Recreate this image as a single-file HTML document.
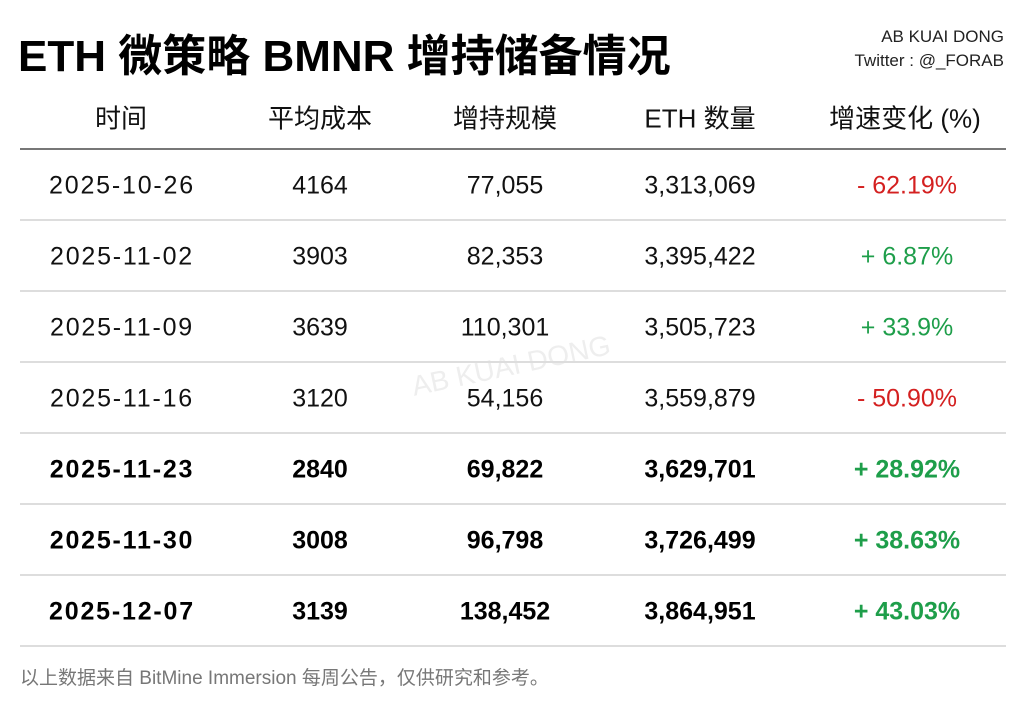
<!DOCTYPE html>
<html><head><meta charset="utf-8"><style>
body{margin:0;width:1024px;height:706px;background:#fff;position:relative;overflow:hidden;font-family:"Liberation Sans","Noto Sans CJK SC",sans-serif;color:#111}
.a{position:absolute;white-space:nowrap}
.t{left:18px;top:20px;font-size:44px;font-weight:bold;color:#000;letter-spacing:0px}
.r{right:20px;text-align:right;font-size:17px;color:#222}
.c{position:absolute;transform:translate(-50%,-50%);white-space:nowrap;font-size:25px}
.d{letter-spacing:1.8px}
.h{font-size:26px;color:#111}
.b{font-weight:bold;color:#000}
.red{color:#d42020}.grn{color:#1e9e4a}
.line{position:absolute;left:20px;width:986px;height:2px;background:#ddd}
</style></head><body>
<div class="a t">ETH 微策略 BMNR 增持储备情况</div>
<div class="a r" style="top:27px">AB KUAI DONG</div>
<div class="a r" style="top:51px">Twitter : @_FORAB</div>

<div class="c h" style="left:121px;top:117px">时间</div>
<div class="c h" style="left:320px;top:117px">平均成本</div>
<div class="c h" style="left:505px;top:117px">增持规模</div>
<div class="c h" style="left:700px;top:117px">ETH 数量</div>
<div class="c h" style="left:905px;top:117px">增速变化 (%)</div>
<div class="line" style="top:148px;background:#777"></div>

<div class="a" style="left:410px;top:350px;transform:rotate(-12deg);font-size:28px;color:#eee">AB KUAI DONG</div>

<div class="c d" style="left:122px;top:186px">2025-10-26</div><div class="c" style="left:320px;top:186px">4164</div><div class="c" style="left:505px;top:186px">77,055</div><div class="c" style="left:700px;top:186px">3,313,069</div><div class="c red" style="left:907px;top:186px">- 62.19%</div>
<div class="line" style="top:219px"></div>
<div class="c d" style="left:122px;top:257px">2025-11-02</div><div class="c" style="left:320px;top:257px">3903</div><div class="c" style="left:505px;top:257px">82,353</div><div class="c" style="left:700px;top:257px">3,395,422</div><div class="c grn" style="left:907px;top:257px">+ 6.87%</div>
<div class="line" style="top:290px"></div>
<div class="c d" style="left:122px;top:328px">2025-11-09</div><div class="c" style="left:320px;top:328px">3639</div><div class="c" style="left:505px;top:328px">110,301</div><div class="c" style="left:700px;top:328px">3,505,723</div><div class="c grn" style="left:907px;top:328px">+ 33.9%</div>
<div class="line" style="top:361px"></div>
<div class="c d" style="left:122px;top:399px">2025-11-16</div><div class="c" style="left:320px;top:399px">3120</div><div class="c" style="left:505px;top:399px">54,156</div><div class="c" style="left:700px;top:399px">3,559,879</div><div class="c red" style="left:907px;top:399px">- 50.90%</div>
<div class="line" style="top:432px"></div>
<div class="c b d" style="left:122px;top:470px">2025-11-23</div><div class="c b" style="left:320px;top:470px">2840</div><div class="c b" style="left:505px;top:470px">69,822</div><div class="c b" style="left:700px;top:470px">3,629,701</div><div class="c b grn" style="left:907px;top:470px">+ 28.92%</div>
<div class="line" style="top:503px"></div>
<div class="c b d" style="left:122px;top:541px">2025-11-30</div><div class="c b" style="left:320px;top:541px">3008</div><div class="c b" style="left:505px;top:541px">96,798</div><div class="c b" style="left:700px;top:541px">3,726,499</div><div class="c b grn" style="left:907px;top:541px">+ 38.63%</div>
<div class="line" style="top:574px"></div>
<div class="c b d" style="left:122px;top:612px">2025-12-07</div><div class="c b" style="left:320px;top:612px">3139</div><div class="c b" style="left:505px;top:612px">138,452</div><div class="c b" style="left:700px;top:612px">3,864,951</div><div class="c b grn" style="left:907px;top:612px">+ 43.03%</div>
<div class="line" style="top:645px"></div>

<div class="a" style="left:20px;top:663px;font-size:19px;color:#777">以上数据来自 BitMine Immersion 每周公告，仅供研究和参考。</div>
</body></html>
